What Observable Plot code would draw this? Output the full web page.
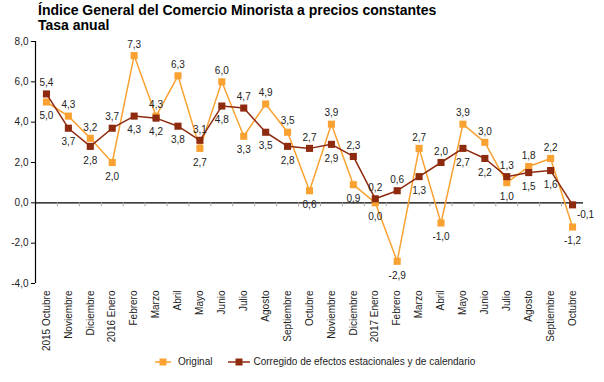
<!DOCTYPE html>
<html>
<head>
<meta charset="utf-8">
<script src="https://cdn.jsdelivr.net/npm/d3@7"></script>
<script src="https://cdn.jsdelivr.net/npm/@observablehq/plot@0.6"></script>
<style>
  html, body { margin: 0; padding: 0; background: #fff; }
  body { width: 604px; height: 382px; position: relative; overflow: hidden; font-family: "Liberation Sans", Arial, sans-serif; }
  #title { position: absolute; left: 38px; top: 3px; font-weight: bold; font-size: 14px; line-height: 15px; color: #000; }
  #chart { position: absolute; left: 0; top: 34px; }
  #legend { position: absolute; left: 155px; top: 356px; display: flex; align-items: center; font-size: 10px; color: #222; white-space: nowrap; }
  #legend .item { display: flex; align-items: center; }
  #legend .item + .item { margin-left: 16px; }
</style>
</head>
<body>
<div id="title">Índice General del Comercio Minorista a precios constantes<br>Tasa anual</div>
<div id="chart"></div>
<div id="legend"></div>
<script>
const labels = ["2015 Octubre","Noviembre","Diciembre","2016 Enero","Febrero","Marzo","Abril","Mayo","Junio","Julio","Agosto","Septiembre","Octubre","Noviembre","Diciembre","2017 Enero","Febrero","Marzo","Abril","Mayo","Junio","Julio","Agosto","Septiembre","Octubre"];
const original = [5.0,4.3,3.2,2.0,7.3,4.3,6.3,2.7,6.0,3.3,4.9,3.5,0.6,3.9,0.9,0.0,-2.9,2.7,-1.0,3.9,3.0,1.0,1.8,2.2,-1.2];
const corregido = [5.4,3.7,2.8,3.7,4.3,4.2,3.8,3.1,4.8,4.7,3.5,2.8,2.7,2.9,2.3,0.2,0.6,1.3,2.0,2.7,2.2,1.3,1.5,1.6,-0.1];
const yTicks = [-4,-2,0,2,4,6,8];
const seriesNames = ["Original", "Corregido de efectos estacionales y de calendario"];
const colors = {"Original": "#F9A232", "Corregido de efectos estacionales y de calendario": "#8E2B0F"};

const fmt = v => v.toFixed(1).replace(".", ",");
const idx = d3.range(labels.length);
const rows = [];
idx.forEach(i => {
  rows.push({i, v: original[i], s: seriesNames[0], above: original[i] > corregido[i]});
  rows.push({i, v: corregido[i], s: seriesNames[1], above: corregido[i] >= original[i]});
});
const last = labels.length - 1;
const isLastRed = d => d.i === last && d.s === seriesNames[1];
const boundaries = d3.range(labels.length - 1).map(i => i + 0.5);

const chart = Plot.plot({
  width: 604,
  height: 318,
  marginTop: 7,
  marginBottom: 69,
  marginLeft: 35,
  marginRight: 21,
  style: {fontFamily: "Liberation Sans, Arial, sans-serif", fontSize: "10px", color: "#222", background: "#fff"},
  x: {domain: [-0.5, labels.length - 0.5]},
  y: {domain: [-4, 8]},
  marks: [
    Plot.ruleX([-0.5], {y1: -4, y2: 8, stroke: "#000", strokeWidth: 1.2}),
    Plot.ruleY([0], {stroke: "#000", strokeWidth: 1.2}),
    Plot.ruleX(boundaries, {x: d => d, y1: 0, y2: -0.2, stroke: "#aaa"}),
    Plot.axisY({ticks: yTicks, tickFormat: fmt, tickSize: 4, tickPadding: 3, label: null, stroke: "#000"}),
    Plot.axisX({ticks: idx, tickFormat: i => labels[i], tickSize: 0, tickPadding: 7, tickRotate: -90, label: null}),
    Plot.line(rows.filter(d => d.s === seriesNames[0]), {x: "i", y: "v", stroke: colors[seriesNames[0]], strokeWidth: 1.5}),
    Plot.dot(rows.filter(d => d.s === seriesNames[0]), {x: "i", y: "v", symbol: "square", r: 4, fill: colors[seriesNames[0]]}),
    Plot.line(rows.filter(d => d.s === seriesNames[1]), {x: "i", y: "v", stroke: colors[seriesNames[1]], strokeWidth: 1.5}),
    Plot.dot(rows.filter(d => d.s === seriesNames[1]), {x: "i", y: "v", symbol: "square", r: 4, fill: colors[seriesNames[1]]}),
    Plot.text(rows.filter(d => d.above && !isLastRed(d)), {x: "i", y: "v", text: d => fmt(d.v), dy: -11, fill: "#222"}),
    Plot.text(rows.filter(d => !d.above && !isLastRed(d)), {x: "i", y: "v", text: d => fmt(d.v), dy: 14, fill: "#222"}),
    Plot.text(rows.filter(isLastRed), {x: "i", y: "v", text: d => fmt(d.v), dx: 13, dy: 10, fill: "#222"})
  ]
});
document.getElementById("chart").appendChild(chart);

const legend = document.getElementById("legend");
seriesNames.forEach((name, k) => {
  const item = document.createElement("div");
  item.className = "item";
  const w = k === 0 ? 16 : 22;
  const gap = k === 0 ? 7 : 3;
  item.innerHTML = `<svg width="${w}" height="10" style="margin-right:${gap}px"><line x1="0" x2="${w}" y1="5" y2="5" stroke="${colors[name]}" stroke-width="1.5"/><rect x="${w/2-3.5}" y="1.5" width="7" height="7" fill="${colors[name]}"/></svg><span>${name}</span>`;
  legend.appendChild(item);
});
</script>
</body>
</html>
